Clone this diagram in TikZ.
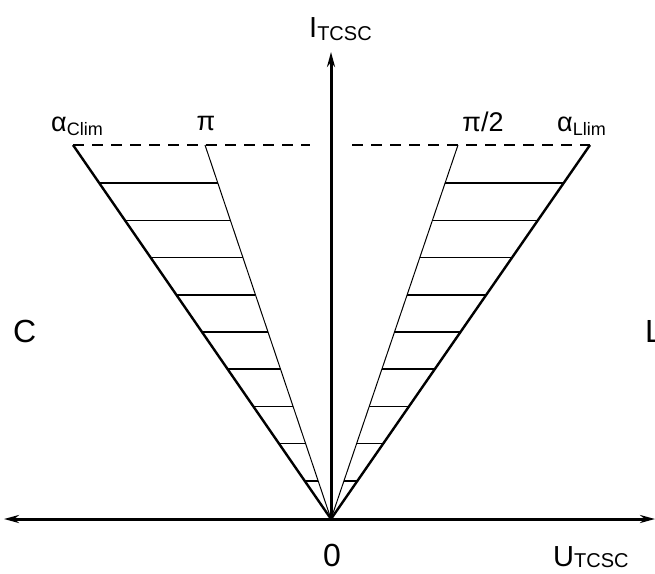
\documentclass[tikz,border=0pt]{standalone}
\usepackage{fontspec}
\setmainfont{Liberation Sans}
\usetikzlibrary{calc,arrows.meta}
\begin{document}
\begin{tikzpicture}[x=1pt,y=-1pt,
  axis/.style={line width=3pt,{Stealth[length=15pt,width=8pt]}-{Stealth[length=15pt,width=8pt]}},
  vaxis/.style={line width=3pt,-{Stealth[length=15pt,width=8pt]}},
  outer/.style={line width=2.4pt},
  inner/.style={line width=1pt},
  hatch/.style={line width=1.6pt},
  limit/.style={line width=1.6pt,dash pattern=on 11pt off 8pt},
  big/.style={inner sep=0pt,font=\fontsize{32}{36}\selectfont},
  mid/.style={inner sep=0pt,font=\fontsize{29}{32}\selectfont},
  top/.style={inner sep=0pt,font=\fontsize{27}{30}\selectfont}]
\useasboundingbox (0,0) rectangle (655,573);
\coordinate (O) at (331,519);
\coordinate (A) at (73,145);
\coordinate (B) at (205,145);
\coordinate (Cc) at (458,145);
\coordinate (D) at (590,145);
\coordinate (gl) at (310,145);
\coordinate (gr) at (352,145);
\coordinate (xl) at (4,519);
\coordinate (xr) at (655,519);
\coordinate (yt) at (331,52);
% axes
\draw[axis] (xl) -- (xr);
\draw[vaxis] (O) -- (yt);
% limit line
\draw[limit] (A) -- (gl);
\draw[limit] (gr) -- (D);
% boundary lines
\draw[outer] (O) -- (A);
\draw[outer] (O) -- (D);
\draw[inner] (O) -- (B);
\draw[inner] (O) -- (Cc);
% hatching
\foreach \k in {0,...,8}{
  \pgfmathsetmacro{\t}{0.898-0.0995*\k}
  \draw[hatch] ($(O)!\t!(A)$) -- ($(O)!\t!(B)$);
  \draw[hatch] ($(O)!\t!(Cc)$) -- ($(O)!\t!(D)$);
}
% labels
\node[mid,anchor=base west] (ic) at (309,37) {I\raisebox{-0.2ex}{\fontsize{20}{22}\selectfont TCSC}};
\node[top,anchor=base west] (ac) at (51,131) {α\raisebox{-0.3ex}{\fontsize{18}{20}\selectfont Clim}};
\node[top,anchor=base] (pi) at (206,130) {π};
\node[top,anchor=base] (pi2) at (483,131) {π/2};
\node[top,anchor=base west] (al) at (557,131) {α\raisebox{-0.3ex}{\fontsize{18}{20}\selectfont Llim}};
\node[big,anchor=base west] (cl) at (13,342) {C};
\node[big,anchor=base west] (ll) at (645,342) {L};
\node[big,anchor=base] (zero) at (332,566) {0};
\node[mid,anchor=base west] (ut) at (553,566) {U\raisebox{-0.1ex}{\fontsize{20}{22}\selectfont TCSC}};
\end{tikzpicture}
\end{document}
